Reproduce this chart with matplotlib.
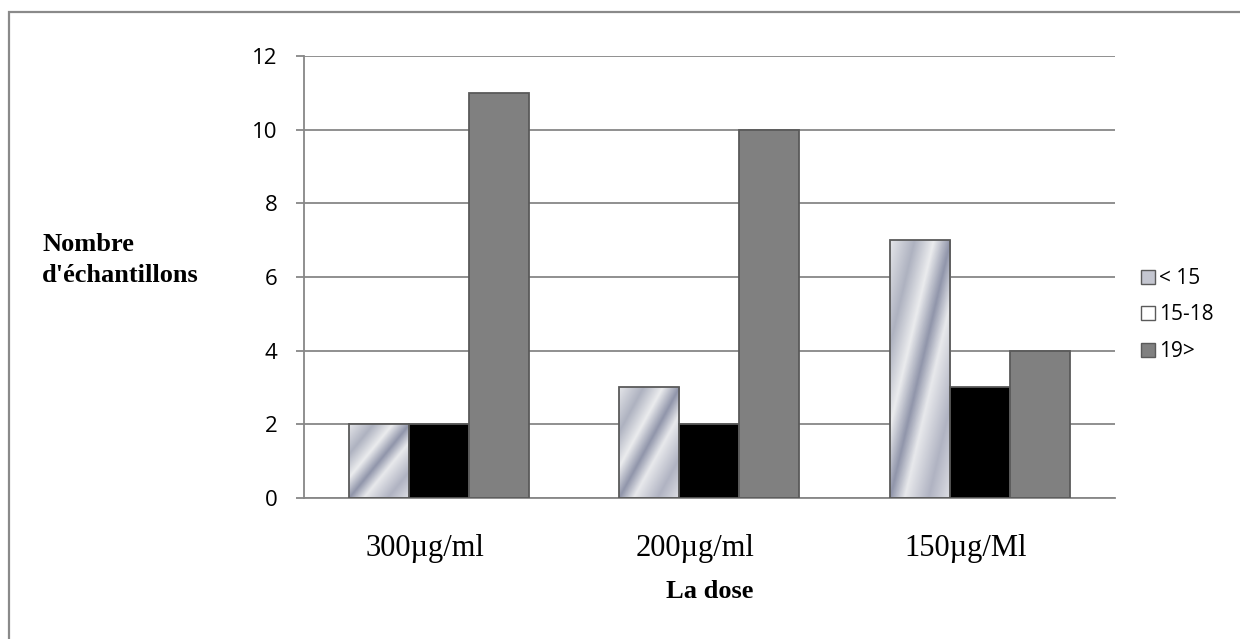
"""
Nombre d'echantillons par dose - grouped bar chart.
"""

import numpy as np
import matplotlib
matplotlib.use("Agg")
import matplotlib.pyplot as plt
from matplotlib.patches import Patch, Rectangle
from matplotlib.colors import LinearSegmentedColormap
from matplotlib.transforms import ScaledTranslation

# Data
doses = ["300µg/ml", "200µg/ml", "150µg/Ml"]
series_names = ["< 15", "15-18", "19>"]
lt15 = [2, 3, 7]
s15_18 = [2, 2, 3]
gt19 = [11, 10, 4]
y_ticks = [0, 2, 4, 6, 8, 10, 12]

GRID = "#878787"
EDGE = "#5a5a5a"

# silver "chrome" gradient used on the first series
chrome = LinearSegmentedColormap.from_list("chrome", [
    (0.00, "#e4e5e9"), (0.20, "#aeb2c0"), (0.36, "#ebecee"),
    (0.50, "#9095aa"), (0.62, "#e8e9ec"), (0.82, "#b0b3c2"),
    (1.00, "#dedfe4"),
])


def gradient_fill(ax, bar):
    """Paint a diagonal chrome gradient inside a bar, clipped to it."""
    x, y = bar.get_x(), bar.get_y()
    w, h = bar.get_width(), bar.get_height()
    u, v = np.meshgrid(np.linspace(0, 1, 80), np.linspace(0, 1, 200))
    t = (u - v + 1) / 2
    im = ax.imshow(t, cmap=chrome, origin="lower", aspect="auto",
                   extent=(x, x + w, y, y + h), interpolation="bilinear",
                   zorder=2)
    im.set_clip_path(bar)


fig = plt.figure(figsize=(12.4, 6.39), dpi=100)
ax = fig.add_axes([0.245, 0.221, 0.654, 0.691])

x = np.arange(len(doses))
width = 0.222

bars1 = ax.bar(x - width, lt15, width, facecolor="none", edgecolor=EDGE,
               linewidth=1.3, zorder=3)
for b in bars1:
    gradient_fill(ax, b)
ax.bar(x, s15_18, width, color="#000000", edgecolor=EDGE, linewidth=1.3, zorder=3)
ax.bar(x + width, gt19, width, color="#808080", edgecolor=EDGE, linewidth=1.3, zorder=3)

ax.set_xlim(-0.5, len(doses) - 0.5)
ax.set_ylim(0, 12)
ax.set_yticks(y_ticks)
ax.set_yticklabels([str(v) for v in y_ticks], fontfamily="Open Sans", fontsize=16)
ax.yaxis.grid(True, color=GRID, linewidth=1.3)
ax.set_axisbelow(True)
ax.tick_params(axis="y", length=6, width=1.3, color=GRID, pad=13)

ax.set_xticks(x)
ax.set_xticklabels(doses, fontfamily="Liberation Serif", fontsize=22)
ax.tick_params(axis="x", length=0, pad=26)
shift = ScaledTranslation(-14 / 100, 0, fig.dpi_scale_trans)
for lab in ax.get_xticklabels():
    lab.set_transform(lab.get_transform() + shift)

for side in ["top", "right"]:
    ax.spines[side].set_visible(False)
ax.spines["left"].set_color(GRID)
ax.spines["left"].set_linewidth(1.3)
ax.spines["bottom"].set_color(GRID)
ax.spines["bottom"].set_linewidth(1.3)

fig.text(710 / 1240, 1 - 591 / 639, "La dose", ha="center", va="center",
         fontfamily="Liberation Serif", fontweight="bold", fontsize=19)
fig.text(42 / 1240, 1 - 260 / 639, "Nombre\nd'échantillons", ha="left",
         va="center", fontfamily="Liberation Serif", fontweight="bold",
         fontsize=19, linespacing=1.4)

handles = [
    Patch(facecolor="#c4c6d0", edgecolor=EDGE, linewidth=1.0),
    Patch(facecolor="white", edgecolor=EDGE, linewidth=1.0),
    Patch(facecolor="#808080", edgecolor=EDGE, linewidth=1.0),
]
fig.legend(handles, series_names, loc="center left",
           bbox_to_anchor=(1141 / 1240, 1 - 315 / 639), frameon=False,
           borderpad=0, borderaxespad=0,
           prop={"family": "Open Sans", "size": 15},
           handlelength=0.65, handleheight=0.65, handletextpad=0.2,
           labelspacing=0.75)

# chart area border (only left and top edges fall inside the picture)
fig.patches.append(Rectangle((9 / 1240, -0.1), 1.2, 1 - 12 / 639 + 0.1,
                             transform=fig.transFigure, fill=False,
                             edgecolor="#8a8a8a", linewidth=1.6))

fig.savefig("out.png", dpi=100)
